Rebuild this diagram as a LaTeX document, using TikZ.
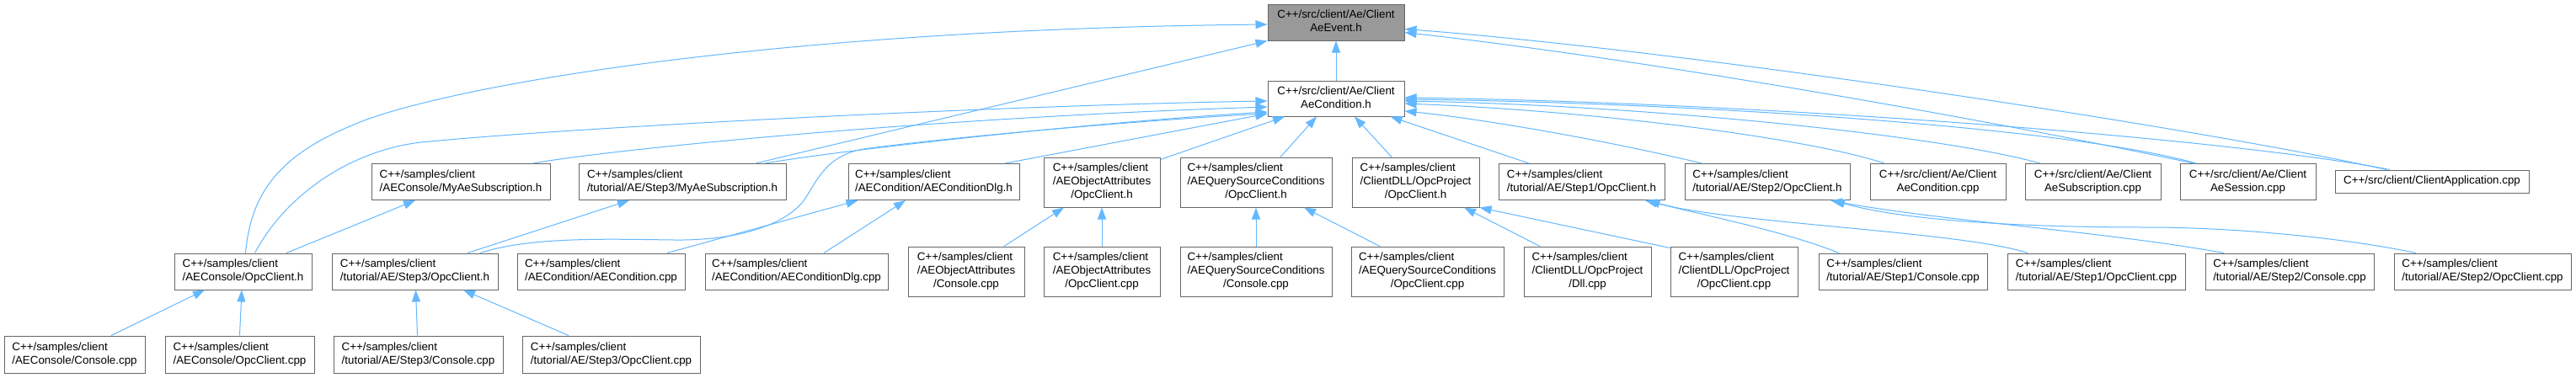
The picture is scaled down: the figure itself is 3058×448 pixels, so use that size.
\documentclass[tikz,border=0pt]{standalone}
\usepackage{fontspec}
\setmainfont{Liberation Sans}
\usetikzlibrary{arrows.meta}
\definecolor{edgeblue}{HTML}{63B8FF}
\definecolor{bordergray}{HTML}{666666}
\definecolor{rootfill}{HTML}{999999}
\newcommand\ltwo[2]{\begin{tabular}{@{}l@{}}#1\\#2\end{tabular}}
\newcommand\lthree[3]{\begin{tabular}{@{}l@{}}#1\\#2\\\multicolumn{1}{@{}c@{}}{#3}\end{tabular}}
\newcommand\ctwo[2]{\begin{tabular}{@{}c@{}}#1\\#2\end{tabular}}
\tikzset{
  box/.style={draw=bordergray, line width=1pt, fill=white, inner sep=0pt,
    font=\fontsize{13.33}{16}\selectfont},
  two/.style={box, minimum height=43pt},
  three/.style={box, minimum height=59pt},
  dep/.style={draw=edgeblue, line width=1pt, -{Triangle[length=14pt,width=10pt]}}
}
\begin{document}
\begin{tikzpicture}[x=1pt,y=-1pt]
\useasboundingbox[fill=white] (0,0) rectangle (3058,448);
% row 0 and 1
\node[two, fill=rootfill, minimum width=162pt] (ev) at (1586,26.5) {\ctwo{C++/src/client/Ae/Client}{AeEvent.h}};
\node[two, minimum width=162pt, minimum height=42pt] (cond) at (1586,117) {\ctwo{C++/src/client/Ae/Client}{AeCondition.h}};
% row 2
\node[two, minimum width=212pt] (myae) at (547,216) {\ltwo{C++/samples/client}{/AEConsole/MyAeSubscription.h}};
\node[two, minimum width=246pt] (s3myae) at (810,216) {\ltwo{C++/samples/client}{/tutorial/AE/Step3/MyAeSubscription.h}};
\node[two, minimum width=203pt] (dlgh) at (1108.5,216) {\ltwo{C++/samples/client}{/AECondition/AEConditionDlg.h}};
\node[three, minimum width=138pt] (oah) at (1308,216.5) {\lthree{C++/samples/client}{/AEObjectAttributes}{/OpcClient.h}};
\node[three, minimum width=180pt] (qsh) at (1491,216.5) {\lthree{C++/samples/client}{/AEQuerySourceConditions}{/OpcClient.h}};
\node[three, minimum width=151pt] (dllh) at (1680.5,216.5) {\lthree{C++/samples/client}{/ClientDLL/OpcProject}{/OpcClient.h}};
\node[two, minimum width=197pt] (s1h) at (1877.5,216) {\ltwo{C++/samples/client}{/tutorial/AE/Step1/OpcClient.h}};
\node[two, minimum width=196pt] (s2h) at (2098,216) {\ltwo{C++/samples/client}{/tutorial/AE/Step2/OpcClient.h}};
\node[two, minimum width=161pt] (condcpp) at (2300.5,216) {\ctwo{C++/src/client/Ae/Client}{AeCondition.cpp}};
\node[two, minimum width=161pt] (subcpp) at (2484.5,216) {\ctwo{C++/src/client/Ae/Client}{AeSubscription.cpp}};
\node[two, minimum width=161pt] (sesscpp) at (2668.5,216) {\ctwo{C++/src/client/Ae/Client}{AeSession.cpp}};
\node[box, minimum width=230pt, minimum height=27pt] (appcpp) at (2887,215.5) {C++/src/client/ClientApplication.cpp};
% row 3
\node[two, minimum width=163pt] (aeoh) at (288.5,322.5) {\ltwo{C++/samples/client}{/AEConsole/OpcClient.h}};
\node[two, minimum width=197pt] (s3h) at (492.5,322.5) {\ltwo{C++/samples/client}{/tutorial/AE/Step3/OpcClient.h}};
\node[two, minimum width=199pt] (condcppS) at (713.5,322.5) {\ltwo{C++/samples/client}{/AECondition/AECondition.cpp}};
\node[two, minimum width=217pt] (dlgcpp) at (945.5,322.5) {\ltwo{C++/samples/client}{/AECondition/AEConditionDlg.cpp}};
\node[three, minimum width=138pt] (oacon) at (1147,322.5) {\lthree{C++/samples/client}{/AEObjectAttributes}{/Console.cpp}};
\node[three, minimum width=138pt] (oaopc) at (1308,322.5) {\lthree{C++/samples/client}{/AEObjectAttributes}{/OpcClient.cpp}};
\node[three, minimum width=180pt] (qscon) at (1491,322.5) {\lthree{C++/samples/client}{/AEQuerySourceConditions}{/Console.cpp}};
\node[three, minimum width=181pt] (qsopc) at (1694.5,322.5) {\lthree{C++/samples/client}{/AEQuerySourceConditions}{/OpcClient.cpp}};
\node[three, minimum width=151pt] (dllcpp) at (1884.5,322.5) {\lthree{C++/samples/client}{/ClientDLL/OpcProject}{/Dll.cpp}};
\node[three, minimum width=151pt] (dllopc) at (2058.5,322.5) {\lthree{C++/samples/client}{/ClientDLL/OpcProject}{/OpcClient.cpp}};
\node[two, minimum width=200pt] (s1con) at (2259,322.5) {\ltwo{C++/samples/client}{/tutorial/AE/Step1/Console.cpp}};
\node[two, minimum width=211pt] (s1opc) at (2488.5,322.5) {\ltwo{C++/samples/client}{/tutorial/AE/Step1/OpcClient.cpp}};
\node[two, minimum width=200pt] (s2con) at (2718,322.5) {\ltwo{C++/samples/client}{/tutorial/AE/Step2/Console.cpp}};
\node[two, minimum width=210pt] (s2opc) at (2947,322.5) {\ltwo{C++/samples/client}{/tutorial/AE/Step2/OpcClient.cpp}};
% row 4
\node[two, minimum width=167pt, minimum height=44pt] (aecon) at (88.5,421) {\ltwo{C++/samples/client}{/AEConsole/Console.cpp}};
\node[two, minimum width=177pt, minimum height=44pt] (aeopc) at (284.5,421) {\ltwo{C++/samples/client}{/AEConsole/OpcClient.cpp}};
\node[two, minimum width=201pt, minimum height=44pt] (s3con) at (496.5,421) {\ltwo{C++/samples/client}{/tutorial/AE/Step3/Console.cpp}};
\node[two, minimum width=211pt, minimum height=44pt] (s3opc) at (725.5,421) {\ltwo{C++/samples/client}{/tutorial/AE/Step3/OpcClient.cpp}};

% edges to AeEvent.h
\draw[dep] (cond.north) -- (ev.south);
\draw[dep] ([xshift=3pt]aeoh.north) .. controls (298,230) and (330,185) .. (420,148) .. controls (520,105) and (900,35) .. ([yshift=-2.5pt]ev.west);
\draw[dep] ([xshift=87pt]s3myae.north) -- (ev.south west);
\draw[dep] ([xshift=-64.5pt]sesscpp.north) .. controls (2350,140) and (1950,70) .. ([yshift=-12pt]ev.east);
\draw[dep] ([xshift=-54pt]appcpp.north) .. controls (2600,150) and (2000,60) .. ([yshift=-8pt]ev.east);
% edges to AeCondition.h
\draw[dep] ([xshift=14pt]aeoh.north) .. controls (340,230) and (420,175) .. (510,168) .. controls (700,150) and (1200,125) .. ([yshift=-3pt]cond.west);
\draw[dep] ([xshift=86pt]myae.north) .. controls (720,178) and (1100,140) .. ([yshift=-10pt]cond.west);
\draw[dep] ([xshift=98pt]s3myae.north) .. controls (1000,178) and (1300,145) .. ([yshift=-16pt]cond.west);
\draw[dep] ([xshift=77.5pt]s3h.north) .. controls (630,281) and (720,284) .. (800,285) .. controls (880,286) and (935,265) .. (955,237) .. controls (970,215) and (980,185) .. (1025,177) .. controls (1150,160) and (1400,140) .. ([yshift=-18pt]cond.west);
\draw[dep] ([xshift=84.5pt]dlgh.north) -- ([yshift=-18pt]cond.west);
\draw[dep] ([yshift=-3pt]oah.north east) -- ([xshift=-61pt]cond.south);
\draw[dep] ([xshift=29pt]qsh.north) -- ([xshift=-23pt]cond.south);
\draw[dep] ([xshift=-28.5pt]dllh.north) -- ([xshift=22pt]cond.south);
\draw[dep] ([xshift=-62.5pt]s1h.north) -- ([xshift=-17pt]cond.south east);
\draw[dep] ([xshift=-78pt]s2h.north) .. controls (1900,165) and (1750,140) .. ([yshift=-15pt]cond.east);
\draw[dep] ([xshift=-63.5pt]condcpp.north) .. controls (2150,165) and (1900,132) .. ([yshift=-6pt]cond.east);
\draw[dep] ([xshift=-62.5pt]subcpp.north) .. controls (2300,160) and (1950,125) .. ([yshift=-3pt]cond.east);
\draw[dep] ([xshift=-61.5pt]sesscpp.north) .. controls (2450,150) and (2000,122) .. ([yshift=-1pt]cond.east);
\draw[dep] ([xshift=-50pt]appcpp.north) .. controls (2650,165) and (2100,122) .. ([yshift=1pt]cond.east);
% row 3 -> row 2
\draw[dep] ([xshift=51.5pt]aeoh.north) -- ([xshift=-54pt]myae.south);
\draw[dep] ([xshift=62.5pt]s3h.north) -- ([xshift=-63pt]s3myae.south);
\draw[dep] ([xshift=78.5pt]condcppS.north) -- ([xshift=-90pt]dlgh.south);
\draw[dep] ([xshift=32.5pt]dlgcpp.north) -- ([xshift=-33.5pt]dlgh.south);
\draw[dep] ([xshift=45pt]oacon.north) -- ([xshift=-45pt]oah.south);
\draw[dep] (oaopc.north) -- (oah.south);
\draw[dep] (qscon.north) -- (qsh.south);
\draw[dep] ([xshift=-56.5pt]qsopc.north) -- ([xshift=57pt]qsh.south);
\draw[dep] ([xshift=-56.5pt]dllcpp.north) -- ([xshift=57.5pt]dllh.south);
\draw[dep] ([yshift=-2pt]dllopc.north west) -- (dllh.south east);
\draw[dep] ([xshift=-76pt]s1con.north) .. controls (2120,275) and (2020,255) .. ([xshift=75.5pt]s1h.south);
\draw[dep] ([xshift=-81.5pt]s1opc.north) .. controls (2330,275) and (2050,265) .. ([xshift=79pt]s1h.south);
\draw[dep] ([xshift=-78pt]s2con.north) .. controls (2500,275) and (2300,262) .. ([xshift=75pt]s2h.south);
\draw[dep] ([xshift=-79pt]s2opc.north) .. controls (2780,282) and (2650,270) .. (2550,270) .. controls (2400,270) and (2260,262) .. ([xshift=78pt]s2h.south);
% row 4 -> row 3
\draw[dep] ([xshift=43.5pt]aecon.north) -- ([xshift=-45.5pt]aeoh.south);
\draw[dep] (aeopc.north) -- ([xshift=-1.5pt]aeoh.south);
\draw[dep] ([xshift=-1pt]s3con.north) -- ([xshift=1pt]s3h.south);
\draw[dep] ([xshift=-50.5pt]s3opc.north) -- ([xshift=57.5pt]s3h.south);
\end{tikzpicture}
\end{document}
